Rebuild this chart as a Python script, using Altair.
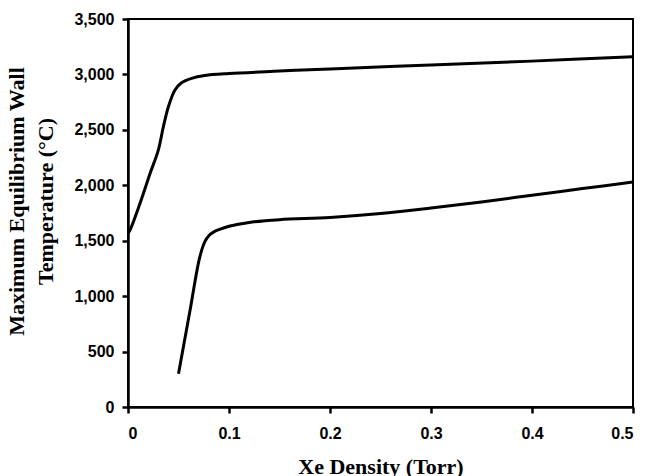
import altair as alt
import pandas as pd

upper_x = [0.0, 0.002, 0.012, 0.022, 0.030, 0.035, 0.040, 0.0465, 0.053, 0.063, 0.076, 0.100, 0.150, 0.200, 0.300, 0.400, 0.500]
upper_y = [1570, 1597, 1840, 2110, 2318, 2528, 2709, 2860, 2925, 2965, 2990, 3008, 3030, 3050, 3085, 3120, 3160]

lower_x = [0.050, 0.061, 0.071, 0.076, 0.080, 0.085, 0.090, 0.100, 0.120, 0.150, 0.200, 0.250, 0.300, 0.350, 0.400, 0.450, 0.500]
lower_y = [300, 850, 1350, 1490, 1545, 1580, 1600, 1630, 1665, 1690, 1710, 1745, 1795, 1850, 1910, 1970, 2030]

df = pd.concat([
    pd.DataFrame({"x": upper_x, "y": upper_y, "series": "upper"}),
    pd.DataFrame({"x": lower_x, "y": lower_y, "series": "lower"}),
])

chart = alt.Chart(df).mark_line(strokeWidth=3, interpolate="catmull-rom", clip=True).encode(
    x=alt.X("x:Q",
            scale=alt.Scale(domain=[0, 0.5], nice=False, zero=False),
            axis=alt.Axis(values=[0, 0.1, 0.2, 0.3, 0.4, 0.5], format="~g",
                          title="Xe Density (Torr)", titleY=66, titleBaseline="alphabetic")),
    y=alt.Y("y:Q",
            scale=alt.Scale(domain=[0, 3500], nice=False),
            axis=alt.Axis(values=list(range(0, 3501, 500)), format=",d",
                          title=["Maximum Equilibrium Wall", "Temperature (°C)"],
                          titleX=-105, titleY=182, titleAngle=-90,
                          titleAlign="center", titleBaseline="alphabetic",
                          titleLineHeight=29, labelPadding=8)),
    color=alt.Color("series:N", scale=alt.Scale(domain=["upper", "lower"], range=["black", "black"]), legend=None),
    detail="series:N",
).properties(
    width=505, height=388,
    autosize=alt.AutoSizeParams(type="none"),
    padding={"left": 120, "top": 11, "right": 6, "bottom": 69},
).configure_view(
    stroke="black", strokeWidth=2,
).configure_axis(
    grid=False,
    domainColor="black", domainWidth=2.5,
    tickColor="black", tickWidth=2.5, tickSize=6,
    labelFont="Liberation Sans", labelFontWeight="bold", labelFontSize=16, labelColor="black",
    titleFont="Liberation Serif", titleFontWeight="bold", titleFontSize=22, titleColor="black",
    labelPadding=12,
)

chart.save("out.html", embed_options={"renderer": "svg", "actions": False})
